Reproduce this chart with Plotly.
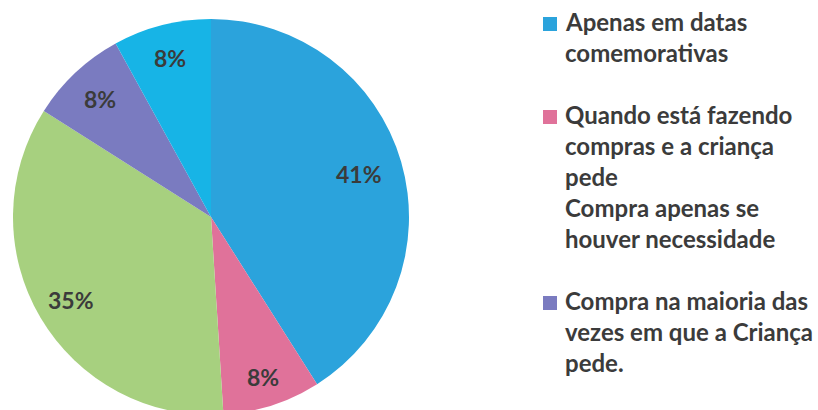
import numpy as np
import plotly.graph_objects as go

# Data
categorias = [
    "Apenas em datas comemorativas",
    "Quando está fazendo compras e a criança pede",
    "Compra apenas se houver necessidade",
    "Compra na maioria das vezes em que a Criança pede.",
    "Outros",
]
valores = [41, 8, 35, 8, 8]
cores = ["#2BA3DC", "#E0729A", "#A7D07F", "#7A7BC0", "#17B4E6"]

# Legend text, one list of lines per entry (None colour = no swatch)
legenda_linhas = [
    ["Apenas em datas", "comemorativas"],
    ["Quando está fazendo", "compras e a criança", "pede"],
    ["Compra apenas se", "houver necessidade"],
    ["Compra na maioria das", "vezes em que a Criança", "pede."],
]
legenda_cores = ["#2BA3DC", "#E0729A", None, "#7A7BC0"]
legenda_gap = [0, 1, 0, 1]  # blank lines before each entry

W, H = 818, 430  # canvas taller than the viewport so the pie bottom is clipped
FONT = "Lato"
TXT = "#3b3b3b"

cx, cy, r = 211, 217, 198

fig = go.Figure(
    go.Pie(
        labels=categorias,
        values=valores,
        marker=dict(colors=cores, line=dict(width=0)),
        sort=False,
        direction="clockwise",
        rotation=0,
        textinfo="none",
        showlegend=False,
        hoverinfo="label+percent",
        domain=dict(
            x=[(cx - r) / W, (cx + r) / W],
            y=[(H - (cy + r)) / H, (H - (cy - r)) / H],
        ),
    )
)


def py(v):
    return 1 - v / H


annotations = []

# percentage labels placed along each slice's mid-angle
vals = np.array(valores, dtype=float)
frac = vals / vals.sum()
mid = (np.cumsum(frac) - frac / 2) * 2 * np.pi  # clockwise from 12 o'clock
raio_rel = [0.78, 0.85, 0.82, 0.82, 0.83]
for f, a, rr in zip(frac, mid, raio_rel):
    lx = cx + rr * r * np.sin(a)
    ly = cy - rr * r * np.cos(a)
    annotations.append(dict(
        text=f"{f * 100:.0f}%", xref="paper", yref="paper",
        x=lx / W, y=py(ly), xanchor="center", yanchor="middle",
        showarrow=False,
        font=dict(family=FONT, size=23, color=TXT, weight="bold"),
    ))

line_h = 31
first_baseline = 31
fs = 24
shapes = []
k = 0
for linhas, cor, gap in zip(legenda_linhas, legenda_cores, legenda_gap):
    k += gap
    for j, t in enumerate(linhas):
        base = first_baseline + line_h * k
        annotations.append(dict(
            text=t, xref="paper", yref="paper",
            x=563 / W, y=py(base + 7), xanchor="left", yanchor="bottom",
            showarrow=False,
            font=dict(family=FONT, size=fs, color=TXT, weight="bold"),
        ))
        if j == 0 and cor is not None:
            shapes.append(dict(
                type="rect", xref="paper", yref="paper",
                x0=543 / W, x1=557 / W, y0=py(base), y1=py(base - 14),
                fillcolor=cor, line=dict(width=0),
            ))
        k += 1

fig.update_layout(
    width=W, height=H,
    margin=dict(l=0, r=0, t=0, b=0),
    paper_bgcolor="white",
    plot_bgcolor="white",
    annotations=annotations,
    shapes=shapes,
)

fig.write_html(
    "out.html",
    post_script="document.documentElement.style.overflow='hidden';document.body.style.overflow='hidden';",
)
